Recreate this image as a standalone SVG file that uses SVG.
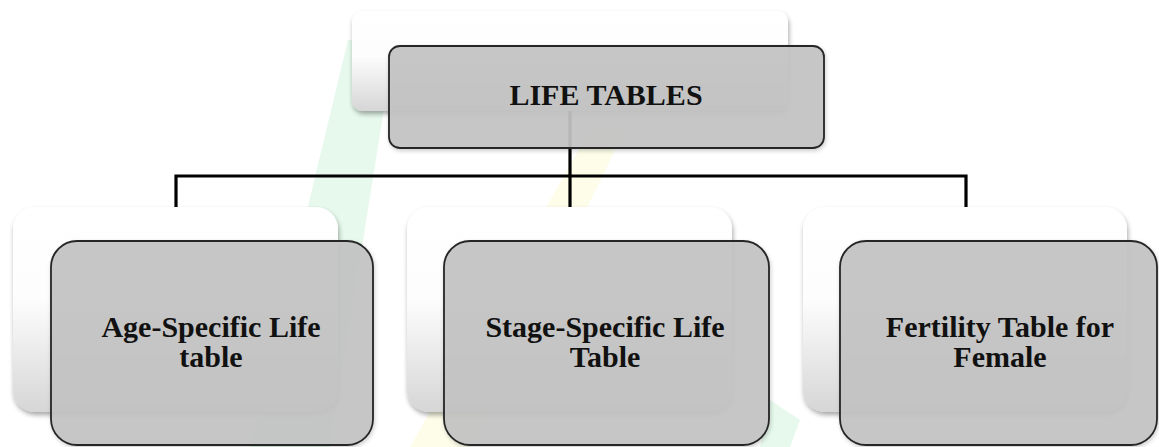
<svg xmlns="http://www.w3.org/2000/svg" width="1159" height="447" viewBox="0 0 1159 447">
<style>
.back{fill:url(#wg);filter:url(#sh)}
.front{fill:#c3c3c3;fill-opacity:0.92;stroke:#262626;stroke-width:1.8;filter:url(#sh2)}
.lbl{font-family:"Liberation Serif","Times New Roman",serif;font-weight:bold;font-size:30px;fill:#111;text-anchor:middle}
.conn{fill:none;stroke:#000;stroke-width:3.2;stroke-linejoin:miter;stroke-linecap:butt}
</style>
<defs>
<linearGradient id="wg" x1="0" y1="0" x2="0" y2="1">
<stop offset="0" stop-color="#ffffff"/>
<stop offset="0.45" stop-color="#fdfdfd"/>
<stop offset="1" stop-color="#d6d6d6"/>
</linearGradient>
<filter id="sh" x="-10%" y="-10%" width="120%" height="125%">
<feGaussianBlur in="SourceAlpha" stdDeviation="2.5"/>
<feOffset dx="1" dy="3" result="b"/>
<feComponentTransfer><feFuncA type="linear" slope="0.35"/></feComponentTransfer>
<feMerge><feMergeNode/><feMergeNode in="SourceGraphic"/></feMerge>
</filter>
<filter id="sh2" x="-10%" y="-10%" width="120%" height="125%">
<feGaussianBlur in="SourceAlpha" stdDeviation="2"/>
<feOffset dx="1" dy="2" result="b"/>
<feComponentTransfer><feFuncA type="linear" slope="0.2"/></feComponentTransfer>
<feMerge><feMergeNode/><feMergeNode in="SourceGraphic"/></feMerge>
</filter>
</defs>
<rect width="1159" height="447" fill="#ffffff"/>
<g id="watermark" opacity="1">
<polygon points="348,40 395,40 330,447 250,447" fill="#e6f9ec"/>
<polygon points="590,130 625,130 470,447 410,447" fill="#fdfde9"/>
<polygon points="770,400 800,420 790,447 760,447" fill="#e6f9ec"/>
</g>
<g id="connectors">
<path class="conn" d="M570,111 V176"/>
<path class="conn" d="M176,207 V176 H966 V207"/>
<path class="conn" d="M570,176 V207"/>
</g>
<g id="node-life-tables">
<rect class="back" x="352" y="11" width="436" height="100" rx="11"/>
<rect class="front" x="389" y="46" width="435" height="102" rx="11"/>
<text class="lbl" x="606" y="105">LIFE TABLES</text>
</g>
<g id="node-age-specific">
<rect class="back" x="13" y="207" width="325" height="205" rx="22"/>
<rect class="front" x="51" y="241" width="322" height="204" rx="26"/>
<text class="lbl" x="211" y="337">Age-Specific Life</text>
<text class="lbl" x="211" y="367">table</text>
</g>
<g id="node-stage-specific">
<rect class="back" x="407" y="207" width="325" height="205" rx="22"/>
<rect class="front" x="444" y="241" width="325" height="204" rx="26"/>
<text class="lbl" x="605" y="337">Stage-Specific Life</text>
<text class="lbl" x="605" y="367">Table</text>
</g>
<g id="node-fertility">
<rect class="back" x="803" y="207" width="324" height="205" rx="22"/>
<rect class="front" x="840" y="241" width="317" height="204" rx="26"/>
<text class="lbl" x="1000" y="337">Fertility Table for</text>
<text class="lbl" x="1000" y="367">Female</text>
</g>
</svg>
